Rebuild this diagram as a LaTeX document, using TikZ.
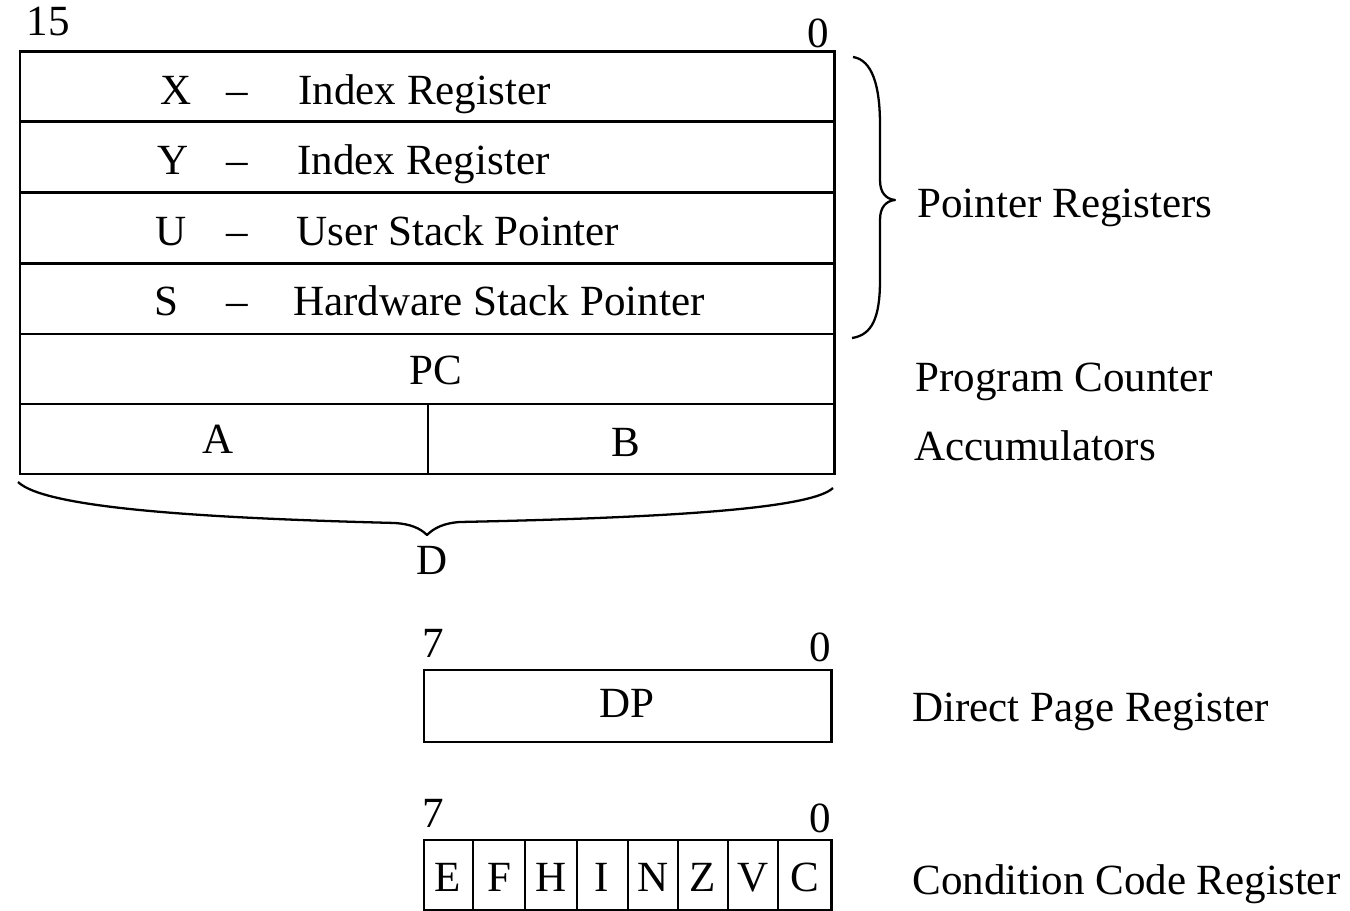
\documentclass[tikz,border=0pt]{standalone}
\usepackage{fontspec}
\setmainfont{Liberation Serif}
\begin{document}
\begin{tikzpicture}[x=0.02cm,y=-0.02cm,
  lbl/.style={font=\fontsize{24.5}{29}\selectfont, inner sep=0pt, anchor=base},
  lblw/.style={lbl, anchor=base west},
  box/.style={draw=black, line width=1.7pt},
  brc/.style={draw=black, line width=1.3pt, line join=round}]
\useasboundingbox (0,0) rectangle (1350,911);
% main register block
\draw[box] (20,52) rectangle (834,474);
\foreach \yy in {122,193,264,334,404} \draw[box] (20,\yy) -- (834,\yy);
\draw[box] (428,404) -- (428,474);
\node[lbl] (b15) at (48,36) {15};
\node[lbl] (b0) at (818,48) {0};
% rows
\node[lbl] (xl) at (176,105) {X};
\node[lbl] (xd) at (237,105) {–};
\node[lblw] (xt) at (298,105) {Index Register};
\node[lbl] (yl) at (173,175) {Y};
\node[lbl] (yd) at (237,175) {–};
\node[lblw] (yt) at (297,175) {Index Register};
\node[lbl] (ul) at (171,246) {U};
\node[lbl] (ud) at (237,246) {–};
\node[lblw] (ut) at (296,246) {User Stack Pointer};
\node[lbl] (sl) at (166,316) {S};
\node[lbl] (sd) at (237,316) {–};
\node[lblw] (st) at (293,316) {Hardware Stack Pointer};
\node[lbl] (pc) at (436,385) {PC};
\node[lbl] (ra) at (218,454) {A};
\node[lbl] (rb) at (626,457) {B};
% right brace
\draw[brc] (853,57) .. controls (872,60) and (880,85) .. (880,125) -- (880,180)
  .. controls (880,193) and (886,199) .. (895,200)
  .. controls (886,201) and (880,207) .. (880,220) -- (880,280)
  .. controls (880,318) and (872,335) .. (852,338);
\node[lblw] (pr) at (917,218) {Pointer Registers};
\node[lblw] (pcl) at (915,392) {Program Counter};
\node[lblw] (acc) at (914,461) {Accumulators};
% bottom brace D
\draw[brc] (18,482) .. controls (45,508) and (200,518) .. (395,523)
  .. controls (410,524) and (420,528) .. (427,535)
  .. controls (434,528) and (444,523) .. (460,522)
  .. controls (650,518) and (810,510) .. (833,488);
\node[lbl] (dd) at (432,575) {D};
% DP register
\draw[box] (424,670) rectangle (831,742);
\node[lbl] (dp) at (627,718) {DP};
\node[lbl] (dp7) at (433,658) {7};
\node[lbl] (dp0) at (820,662) {0};
\node[lblw] (dpl) at (912,722) {Direct Page Register};
% CC register
\draw[box] (424,840) rectangle (831,910);
\foreach \xx in {473,525,577,628,678,728,778} \draw[box] (\xx,840) -- (\xx,910);
\node[lbl] (c7) at (433,828) {7};
\node[lbl] (c0) at (820,833) {0};
\node[lbl] (ce) at (448,892) {E};
\node[lbl] (cf) at (499,892) {F};
\node[lbl] (ch) at (551,892) {H};
\node[lbl] (ci) at (602,892) {I};
\node[lbl] (cn) at (653,892) {N};
\node[lbl] (cz) at (703,892) {Z};
\node[lbl] (cv) at (753,892) {V};
\node[lbl] (cc) at (805,892) {C};
\node[lblw] (ccl) at (912,895) {Condition Code Register};
\end{tikzpicture}
\end{document}
